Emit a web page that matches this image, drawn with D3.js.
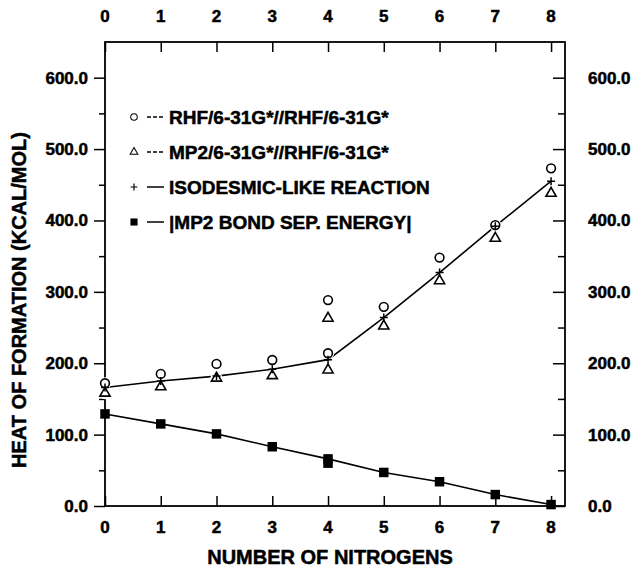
<!DOCTYPE html>
<html lang="en">
<head>
<meta charset="UTF-8">
<title>Heat of formation vs number of nitrogens</title>
<script src="https://d3js.org/d3.v7.min.js"></script>
<style>
  body { margin: 0; background: #fff; }
  text { font-family: "Liberation Sans", Arial, sans-serif; font-weight: bold; fill: #000; stroke: #000; stroke-width: 0.5px; }
</style>
</head>
<body>
<div id="chart"></div>
<script>
  // number of nitrogens (x) and the four series
  const nitrogens = [0, 1, 2, 3, 4, 5, 6, 7, 8];
  const rhf_x = [0, 1, 2, 3, 4, 4, 5, 6, 7, 8];
  const rhf_y = [172, 185, 199, 204.5, 214, 288.5, 279, 348, 393.5, 473];
  const mp2_x = [0, 1, 2, 3, 4, 4, 5, 6, 7, 8];
  const mp2_y = [158, 167, 179, 182.5, 190.5, 263, 252, 315.5, 375, 438];
  const iso_y = [166, 175, 182, 191.5, 205, 264, 327, 392, 455];
  const bsep_x = [0, 1, 2, 3, 4, 4, 5, 6, 7, 8];
  const bsep_y = [129, 115, 101, 83, 66, 60, 47, 34, 16, 2];
  const y_ticks = [0, 100, 200, 300, 400, 500, 600];
  const y_minor = [50, 150, 250, 350, 450, 550];
  const legend_labels = [
    "RHF/6-31G*//RHF/6-31G*",
    "MP2/6-31G*//RHF/6-31G*",
    "ISODESMIC-LIKE REACTION",
    "|MP2 BOND SEP. ENERGY|"
  ];

  const width = 631, height = 569;
  const plot_left = 105, plot_right = 565, plot_top = 42, plot_bottom = 506;

  const svg = d3.select("#chart").append("svg")
    .attr("width", width)
    .attr("height", height);

  const x = d3.scaleLinear().domain([0, 8.25]).range([plot_left, plot_right]);
  const y = d3.scaleLinear().domain([0, 650]).range([plot_bottom, plot_top]);

  const fmt = d3.format(".1f");

  // ticks (all inward except the left axis, which points out)
  svg.append("g").attr("transform", `translate(0,${plot_top})`)
    .call(d3.axisBottom(x).tickValues(nitrogens).tickSize(10).tickFormat(""));
  svg.append("g").attr("transform", `translate(0,${plot_bottom})`)
    .call(d3.axisTop(x).tickValues(nitrogens).tickSize(10).tickFormat(""));
  svg.append("g").attr("transform", `translate(${plot_left},0)`)
    .call(d3.axisLeft(y).tickValues(y_ticks).tickSize(11).tickFormat(""));
  svg.append("g").attr("transform", `translate(${plot_left},0)`)
    .call(d3.axisLeft(y).tickValues(y_minor).tickSize(6).tickFormat(""));
  svg.append("g").attr("transform", `translate(${plot_right},0)`)
    .call(d3.axisLeft(y).tickValues(y_ticks).tickSize(12).tickFormat(""));
  svg.append("g").attr("transform", `translate(${plot_right},0)`)
    .call(d3.axisLeft(y).tickValues(y_minor).tickSize(7).tickFormat(""));

  svg.selectAll(".domain").remove();
  svg.selectAll(".tick line").attr("stroke", "#000").attr("stroke-width", 1.5);

  svg.append("rect")
    .attr("x", plot_left).attr("y", plot_top)
    .attr("width", plot_right - plot_left).attr("height", plot_bottom - plot_top)
    .attr("fill", "none").attr("stroke", "#000").attr("stroke-width", 1.8);

  // tick labels
  svg.selectAll(".xlab-top").data(nitrogens).enter().append("text")
    .attr("x", d => x(d)).attr("y", 22)
    .attr("text-anchor", "middle").attr("font-size", 17)
    .text(d => d);
  svg.selectAll(".xlab-bot").data(nitrogens).enter().append("text")
    .attr("x", d => x(d)).attr("y", 533)
    .attr("text-anchor", "middle").attr("font-size", 17)
    .text(d => d);
  svg.selectAll(".ylab-left").data(y_ticks).enter().append("text")
    .attr("x", 88).attr("y", d => y(d) + 6)
    .attr("text-anchor", "end").attr("font-size", 17)
    .text(d => fmt(d));
  svg.selectAll(".ylab-right").data(y_ticks).enter().append("text")
    .attr("x", 588).attr("y", d => y(d) + 6)
    .attr("text-anchor", "start").attr("font-size", 17)
    .text(d => fmt(d));

  // axis titles
  svg.append("text")
    .attr("x", 330).attr("y", 564)
    .attr("text-anchor", "middle").attr("font-size", 20)
    .text("NUMBER OF NITROGENS");
  svg.append("text")
    .attr("transform", "translate(26,300) rotate(-90)")
    .attr("text-anchor", "middle").attr("font-size", 20)
    .text("HEAT OF FORMATION (KCAL/MOL)");

  const rhf = rhf_x.map((n, i) => [n, rhf_y[i]]);
  const mp2 = mp2_x.map((n, i) => [n, mp2_y[i]]);
  const bsep = bsep_x.map((n, i) => [n, bsep_y[i]]);
  const iso = nitrogens.map((n, i) => [n, iso_y[i]]);

  // lines
  const line = d3.line().x(d => x(d[0])).y(d => y(d[1]));
  svg.append("path")
    .datum(iso)
    .attr("d", line).attr("fill", "none").attr("stroke", "#000").attr("stroke-width", 1.6);
  svg.append("path")
    .datum(bsep.filter((d, i) => i !== 5))
    .attr("d", line).attr("fill", "none").attr("stroke", "#000").attr("stroke-width", 1.6);

  // markers
  const sym_circle = d3.symbol().type(d3.symbolCircle).size(60);
  const sym_tri = d3.symbol().type(d3.symbolTriangle).size(45);
  const sym_square = d3.symbol().type(d3.symbolSquare).size(90);
  const plus_path = "M-4,0H4M0,-4V4";

  // white halos so the fitted line breaks around the open symbols
  svg.selectAll(".halo").data(rhf.concat(mp2)).enter().append("circle")
    .attr("cx", d => x(d[0])).attr("cy", d => y(d[1])).attr("r", 6)
    .attr("fill", "#fff");

  svg.selectAll(".plus").data(iso).enter().append("path")
    .attr("transform", d => `translate(${x(d[0])},${y(d[1])})`)
    .attr("d", plus_path)
    .attr("stroke", "#000").attr("stroke-width", 1.5);

  svg.selectAll(".rhf").data(rhf).enter().append("path")
    .attr("transform", d => `translate(${x(d[0])},${y(d[1])})`)
    .attr("d", sym_circle).attr("fill", "none").attr("stroke", "#000").attr("stroke-width", 1.6);
  svg.selectAll(".mp2").data(mp2).enter().append("path")
    .attr("transform", d => `translate(${x(d[0])},${y(d[1])})`)
    .attr("d", sym_tri).attr("fill", "none").attr("stroke", "#000").attr("stroke-width", 1.6);
  svg.selectAll(".bsep").data(bsep).enter().append("path")
    .attr("transform", d => `translate(${x(d[0])},${y(d[1])})`)
    .attr("d", sym_square).attr("fill", "#000");

  // legend
  const legend_y = [117, 152, 187, 222];
  const legend_syms = [sym_circle, sym_tri, null, sym_square];
  const lg = svg.selectAll(".legend").data(legend_labels).enter().append("g")
    .attr("transform", (d, i) => `translate(134,${legend_y[i]})`);
  lg.append("path")
    .attr("d", (d, i) => i === 2 ? plus_path : legend_syms[i]())
    .attr("fill", (d, i) => i === 3 ? "#000" : "none")
    .attr("stroke", "#000").attr("stroke-width", (d, i) => i === 3 ? 0 : 1.4)
    .attr("transform", (d, i) => i === 2 ? "scale(0.85)" : "scale(0.75)");
  lg.append("line")
    .attr("x1", 13).attr("x2", 30).attr("y1", 0).attr("y2", 0)
    .attr("stroke", "#000").attr("stroke-width", 1.5)
    .attr("stroke-dasharray", (d, i) => i < 2 ? "4,2" : null);
  lg.append("text")
    .attr("x", 35).attr("y", 7)
    .attr("font-size", 19)
    .text(d => d);
</script>
</body>
</html>
